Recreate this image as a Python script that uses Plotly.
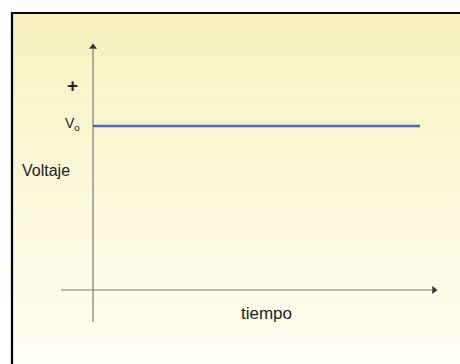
import plotly.graph_objects as go

# Data
time_vals = [0, 10]
voltage_vals = [1, 1]          # constant V0
axis_labels = {"x": "tiempo", "y": "Voltaje"}
level_label = "V<sub>o</sub>"
sign_label = "+"

W, H = 460, 364
X0PX, Y0PX = 93, 290            # pixel position of origin
SX, SY = 32.7, 164.0            # pixels per unit

def tx(px):
    return (px - X0PX) / SX

def vy(py):
    return (Y0PX - py) / SY

fig = go.Figure()

shapes = []
# background gradient strips
top, bot = 12, H
n = 80
c0 = (246, 241, 189)
c1 = (255, 254, 245)
for i in range(n):
    y_a = top + (bot - top) * i / n
    y_b = top + (bot - top) * (i + 1) / n + 0.6
    f = i / (n - 1)
    c = tuple(round(c0[k] + (c1[k] - c0[k]) * f) for k in range(3))
    shapes.append(dict(type="rect", xref="paper", yref="paper",
                       x0=11 / W, x1=1.0, y0=max(0, 1 - y_b / H), y1=1 - y_a / H,
                       fillcolor="rgb(%d,%d,%d)" % c, line=dict(width=0), layer="below"))
# frame
shapes.append(dict(type="line", xref="paper", yref="paper", x0=12 / W, x1=12 / W,
                   y0=0, y1=1 - 12 / H, line=dict(color="black", width=2.2), layer="below"))
shapes.append(dict(type="line", xref="paper", yref="paper", x0=11 / W, x1=1,
                   y0=1 - 13 / H, y1=1 - 13 / H, line=dict(color="black", width=2.2),
                   layer="below"))
# axes lines
axis_col = "#7a7a7a"
shapes.append(dict(type="line", xref="x", yref="y", x0=tx(61), x1=tx(433), y0=0, y1=0,
                   line=dict(color=axis_col, width=1.2)))
shapes.append(dict(type="line", xref="x", yref="y", x0=0, x1=0, y0=vy(322), y1=vy(48),
                   line=dict(color=axis_col, width=1.2)))

# arrowheads
fig.add_trace(go.Scatter(x=[tx(434)], y=[0], mode="markers",
                         marker=dict(symbol="triangle-right", size=7, color="#333"),
                         hoverinfo="skip", showlegend=False))
fig.add_trace(go.Scatter(x=[0], y=[vy(47)], mode="markers",
                         marker=dict(symbol="triangle-up", size=7, color="#333"),
                         hoverinfo="skip", showlegend=False))

fig.add_trace(go.Scatter(
    x=time_vals, y=voltage_vals, mode="lines",
    line=dict(color="#4a70b8", width=2.4), hoverinfo="skip", showlegend=False))

annotations = []
font = "Liberation Sans, Arial, sans-serif"
annotations.append(dict(x=tx(72), y=vy(85), text="<b>" + sign_label + "</b>", showarrow=False,
                        font=dict(family=font, size=19, color="#222")))
annotations.append(dict(x=tx(82), y=vy(124), text=level_label, showarrow=False,
                        xanchor="right", font=dict(family=font, size=14, color="#222")))
annotations.append(dict(x=tx(46), y=vy(170), text=axis_labels["y"], showarrow=False,
                        font=dict(family=font, size=16, color="#222")))
annotations.append(dict(x=tx(266), y=vy(313), text=axis_labels["x"], showarrow=False,
                        font=dict(family=font, size=17, color="#222")))

fig.update_layout(
    width=W, height=H, margin=dict(l=0, r=0, t=0, b=0),
    paper_bgcolor="white", plot_bgcolor="rgba(0,0,0,0)",
    xaxis=dict(range=[tx(0), tx(W)], visible=False, fixedrange=True),
    yaxis=dict(range=[vy(H), vy(0)], visible=False, fixedrange=True),
    shapes=shapes, annotations=annotations,
)

fig.write_html("out.html", config={"displayModeBar": False},
               post_script="document.body.style.margin='0';document.body.style.overflow='hidden';")
